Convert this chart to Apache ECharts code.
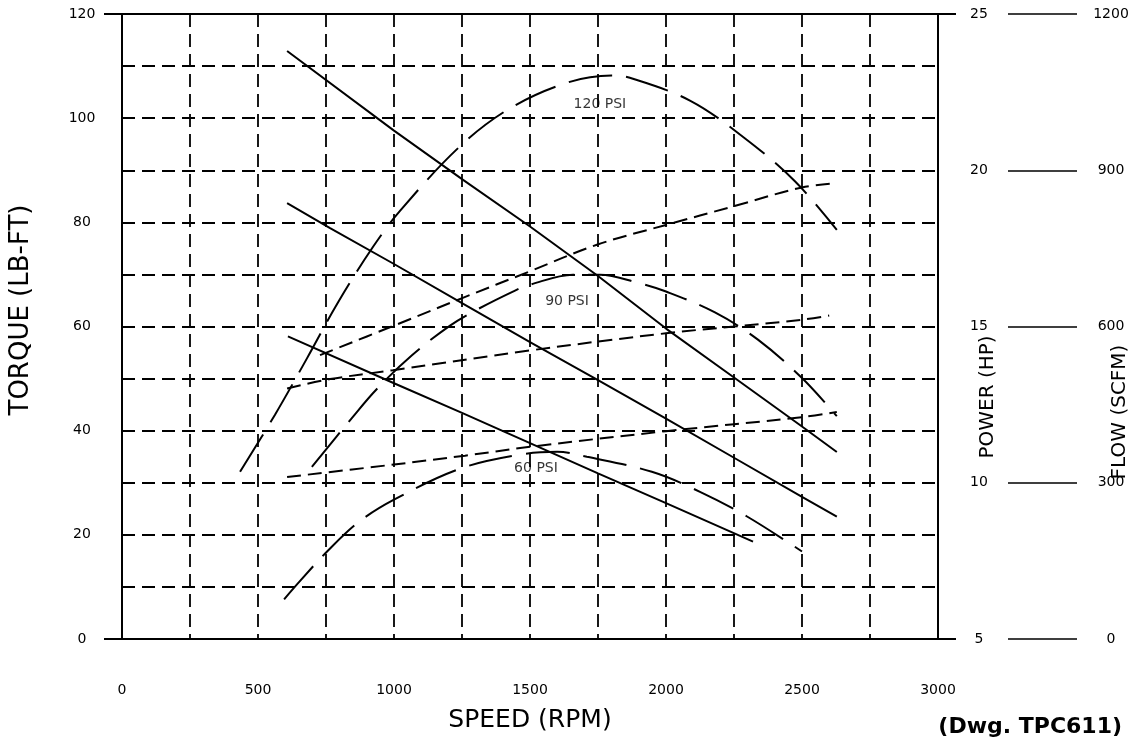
<!DOCTYPE html>
<html>
<head>
<meta charset="utf-8">
<script src="https://cdn.jsdelivr.net/npm/echarts@6/dist/echarts.min.js"></script>
<style>html,body{margin:0;padding:0;background:#fff}#c{width:1138px;height:738px}</style>
</head>
<body>
<div id="c"></div>
<script>
// ---- data: [speed (rpm), value] ----
// Torque (lb-ft)
const torque120 = [[607,112.9],[1000,97.6],[1250,88.3],[1500,79.2],[1750,69.7],[2000,59.6],[2250,50.2],[2500,40.8],[2628,35.9]];
const torque90  = [[607,83.7],[765,78.9],[1000,72.0],[1250,64.5],[1500,57.0],[1750,49.7],[2000,42.3],[2250,34.8],[2500,27.3],[2628,23.5]];
const torque60  = [[610,58.1],[1000,49.1],[1250,43.4],[1500,37.6],[1750,31.8],[2000,26.1],[2320,18.7]];
// Power (HP)
const power120 = [[434,10.35],[562,12.17],[680,13.98],[794,15.77],[923,17.55],[1022,18.7],[1243,20.77],[1426,21.98],[1636,22.8],[1800,23.03],[1867,22.96],[2088,22.23],[2286,21.05],[2474,19.65],[2628,18.09]];
const power90  = [[698,10.51],[845,12.07],[937,13.0],[1066,14.08],[1206,15.03],[1305,15.54],[1445,16.15],[1500,16.34],[1658,16.66],[1757,16.66],[1897,16.4],[2000,16.12],[2180,15.45],[2338,14.58],[2500,13.35],[2628,12.13]];
const power60  = [[596,6.27],[654,6.85],[754,7.8],[868,8.73],[1000,9.46],[1243,10.45],[1463,10.9],[1600,10.99],[1709,10.83],[1948,10.35],[2125,9.71],[2298,8.92],[2500,7.8]];
// Flow (SCFM)
const flow120 = [[728,545],[1011,604],[1253,655],[1500,706],[1746,757],[2000,795],[2250,831],[2500,867],[2628,875]];
const flow90  = [[607,481],[765,499],[996,516],[1500,554],[2000,587],[2250,600],[2500,613],[2600,621]];
const flow60  = [[607,311],[1000,335],[1261,352],[1500,369],[2000,399],[2500,426],[2628,436]];
// Pressure labels: [speed, torque, text]
const pressureLabels = [[1757,102.6,'120 PSI'],[1636,64.8,'90 PSI'],[1522,32.7,'60 PSI']];

// ---- chart ----
const FONT = '"DejaVu Sans", sans-serif';
const BLACK = '#000';
const chart = echarts.init(document.getElementById('c'), null, {renderer:'canvas'});

function curve(name, data, yAxisIndex, dash) {
  return {
    name, type:'line', data, yAxisIndex, symbol:'none', smooth: dash === 'solid' ? false : 0.35,
    lineStyle:{color:BLACK, width:2, type:dash},
    silent:true, z:3
  };
}

const labelStyle = {color:BLACK, fontFamily:FONT, fontSize:14};
const plain = v => String(v);

const option = {
  animation:false,
  backgroundColor:'#fff',
  grid:{left:122, right:200, top:14, bottom:95, show:false},
  xAxis:[{
    type:'value', min:0, max:3000, interval:250, position:'bottom',
    axisLine:{show:true, onZero:false, lineStyle:{color:BLACK, width:2}},
    axisTick:{show:false},
    axisLabel:{formatter:v => (v % 500 === 0 ? String(v) : ''), margin:44, ...labelStyle},
    splitLine:{show:true, lineStyle:{color:BLACK, width:1.8, type:[13,7]}},
    name:'SPEED (RPM)', nameLocation:'middle', nameGap:69,
    nameTextStyle:{color:BLACK, fontFamily:FONT, fontSize:25}
  },{
    type:'value', min:0, max:3000, position:'top',
    axisLine:{show:true, onZero:false, lineStyle:{color:BLACK, width:2}},
    axisTick:{show:false}, axisLabel:{show:false}, splitLine:{show:false}
  }],
  yAxis:[{
    type:'value', min:0, max:120, interval:10, position:'left',
    axisLine:{show:true, onZero:false, lineStyle:{color:BLACK, width:2}},
    axisTick:{show:false},
    axisLabel:{formatter:v => (v % 20 === 0 ? String(v) : ''), margin:40, align:'center', ...labelStyle},
    splitLine:{show:true, lineStyle:{color:BLACK, width:1.8, type:[13,7]}}
  },{
    type:'value', min:5, max:25, interval:5, position:'right', offset:0,
    axisLine:{show:true, onZero:false, lineStyle:{color:BLACK, width:2}},
    axisTick:{show:false},
    axisLabel:{formatter:plain, margin:41, align:'center', color:BLACK, fontFamily:FONT, fontSize:14},
    splitLine:{show:false}
  },{
    type:'value', min:0, max:1200, interval:300, position:'right', offset:139,
    axisLine:{show:false, onZero:false},
    axisTick:{show:true, inside:true, length:69, lineStyle:{color:BLACK, width:1.5}},
    axisLabel:{formatter:plain, margin:34, align:'center', color:BLACK, fontFamily:FONT, fontSize:14},
    splitLine:{show:false}
  },{
    type:'value', min:0, max:120, interval:120, position:'left', offset:0,
    axisLine:{show:false, onZero:false},
    axisTick:{show:true, length:18, lineStyle:{color:BLACK, width:2}},
    axisLabel:{show:false}, splitLine:{show:false}
  },{
    type:'value', min:0, max:120, interval:120, position:'right', offset:0,
    axisLine:{show:false, onZero:false},
    axisTick:{show:true, length:18, lineStyle:{color:BLACK, width:2}},
    axisLabel:{show:false}, splitLine:{show:false}
  }],
  series:[
    curve('Torque 120 PSI', torque120, 0, 'solid'),
    curve('Torque 90 PSI', torque90, 0, 'solid'),
    curve('Torque 60 PSI', torque60, 0, 'solid'),
    curve('Power 120 PSI', power120, 1, [44,14]),
    curve('Power 90 PSI', power90, 1, [44,14]),
    curve('Power 60 PSI', power60, 1, [44,14]),
    curve('Flow 120 PSI', flow120, 2, [14,7]),
    curve('Flow 90 PSI', flow90, 2, [14,7]),
    curve('Flow 60 PSI', flow60, 2, [14,7]),
    {
      name:'Pressure', type:'scatter', yAxisIndex:0, symbolSize:1, silent:true, z:4,
      itemStyle:{color:'transparent'},
      data: pressureLabels.map(p => ({value:[p[0], p[1]], name:p[2]})),
      label:{show:true, position:'inside', formatter:p => p.name, color:BLACK, fontFamily:FONT, fontSize:14}
    }
  ],
  graphic:[
    {type:'text', x:21, y:310, rotation:Math.PI/2, silent:true,
     style:{text:'TORQUE (LB-FT)', align:'center', verticalAlign:'middle', fill:BLACK, font:'26px "DejaVu Sans", sans-serif'}},
    {type:'text', x:988, y:397, rotation:Math.PI/2, silent:true,
     style:{text:'POWER (HP)', align:'center', verticalAlign:'middle', fill:BLACK, font:'20px "DejaVu Sans", sans-serif'}},
    {type:'text', x:1120, y:412, rotation:Math.PI/2, silent:true,
     style:{text:'FLOW (SCFM)', align:'center', verticalAlign:'middle', fill:BLACK, font:'20px "DejaVu Sans", sans-serif'}},
    {type:'text', x:1122, y:727, silent:true,
     style:{text:'(Dwg. TPC611)', align:'right', verticalAlign:'middle', fill:BLACK, font:'bold 22px "DejaVu Sans", sans-serif'}}
  ]
};
chart.setOption(option);
</script>
</body>
</html>
